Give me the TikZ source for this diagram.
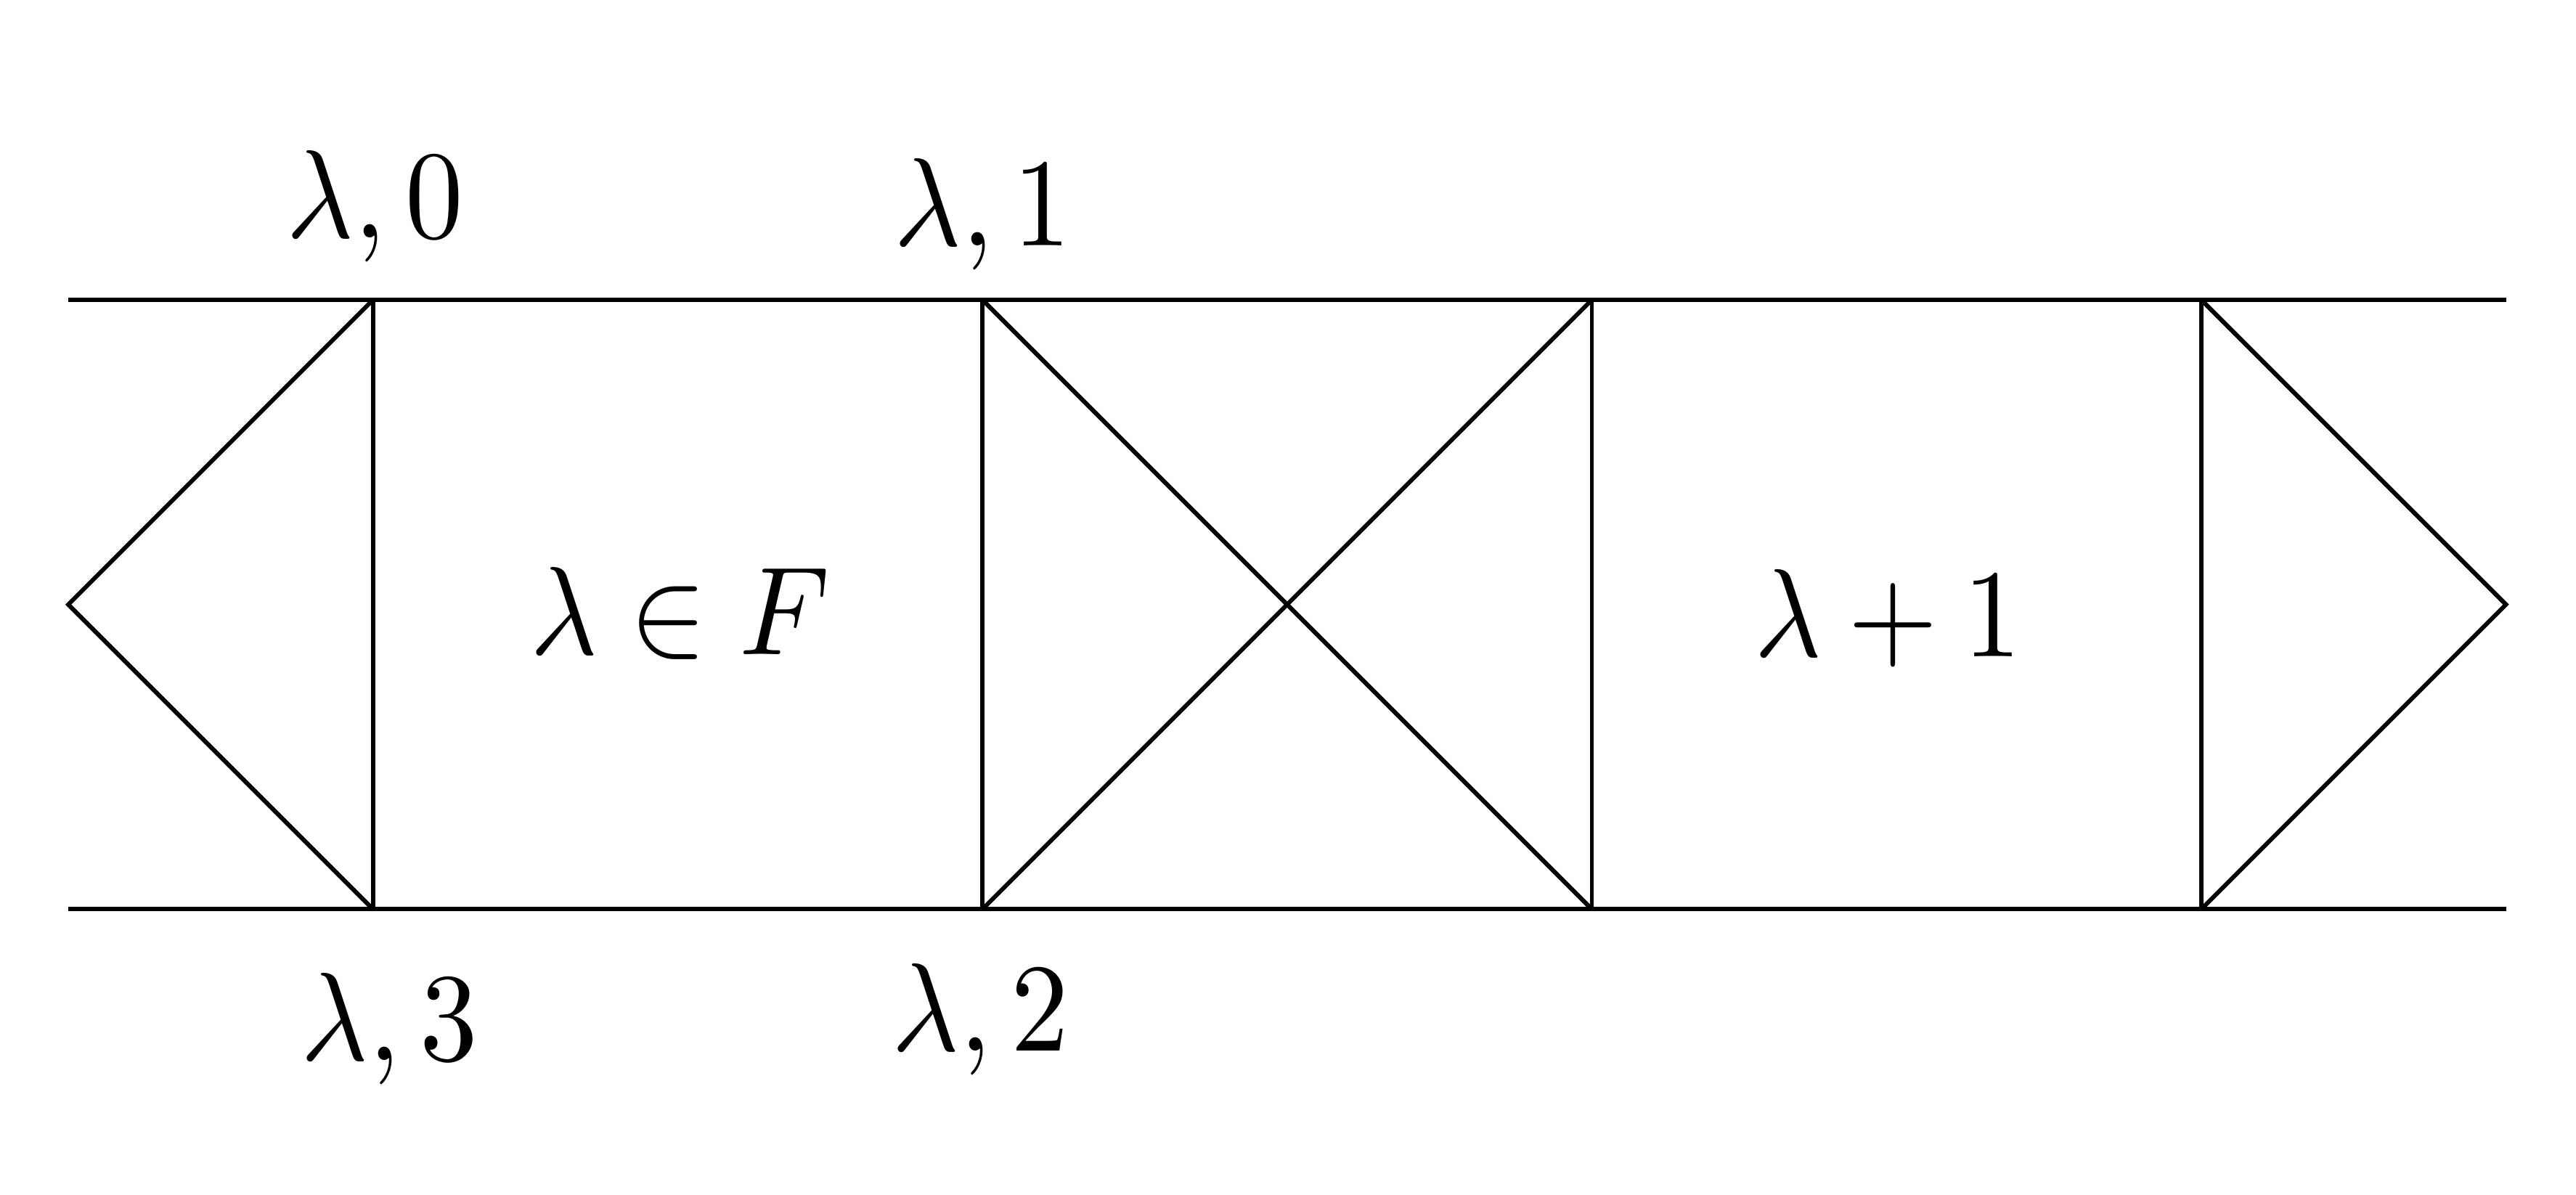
\documentclass[tikz,border=0pt]{standalone}
\begin{document}
\begin{tikzpicture}[x=3cm,y=3cm,
  edge/.style={line width=0.6pt},
  lbl/.style={anchor=base,inner sep=0pt,xscale=1.62,yscale=1.76}]
\useasboundingbox (-0.612,-0.468) rectangle (3.615,1.492);
\coordinate (L) at (-0.5,0.5);
\coordinate (R) at (3.5,0.5);
\coordinate (TL) at (-0.5,1);
\coordinate (BL) at (-0.5,0);
\coordinate (TR) at (3.5,1);
\coordinate (BR) at (3.5,0);
\foreach \i in {0,1,2,3} {
  \coordinate (t\i) at (\i,1);
  \coordinate (b\i) at (\i,0);
}
\draw[edge] (TL) -- (TR);
\draw[edge] (BL) -- (BR);
\foreach \i in {0,1,2,3} { \draw[edge] (t\i) -- (b\i); }
\draw[edge] (t0) -- (L) -- (b0);
\draw[edge] (t1) -- (b2);
\draw[edge] (b1) -- (t2);
\draw[edge] (t3) -- (R) -- (b3);
\node[lbl] (l0) at (0.003,1.102) {$\lambda,0$};
\node[lbl] (l1) at (1.0,1.089) {$\lambda,1$};
\node[lbl] (l3) at (0.027,-0.248) {$\lambda,3$};
\node[lbl] (l2) at (0.997,-0.232) {$\lambda,2$};
\node[lbl] (lf) at (0.504,0.418) {$\lambda\in F$};
\node[lbl] (lp) at (2.486,0.415) {$\lambda+1$};
\end{tikzpicture}
\end{document}
